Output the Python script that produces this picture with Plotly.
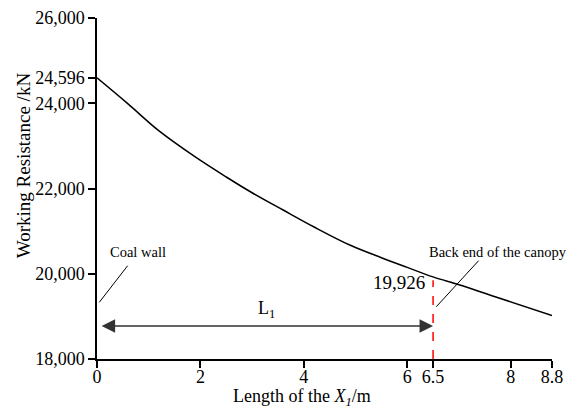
import plotly.graph_objects as go

# Working resistance along the canopy length
length_m = [0, 0.6, 1.2, 1.9, 2.5, 3.0, 3.6, 4.2, 4.9, 5.5, 6.0, 6.5, 7.0, 7.7, 8.8]
resistance_kn = [24596, 23985, 23350, 22740, 22270, 21900, 21495, 21096, 20668,
                 20377, 20150, 19926, 19742, 19462, 19020]

x_ticks = [0, 2, 4, 6, 6.5, 8, 8.8]
x_tick_text = ["0", "2", "4", "6", "6.5", "8", "8.8"]
y_ticks = [18000, 20000, 22000, 24000, 24596, 26000]
y_tick_text = ["18,000", "20,000", "22,000", "24,000", "24,596", "26,000"]

canopy_end_x = 6.5
canopy_end_value = 19926

FONT = "Liberation Serif, Times New Roman, serif"

fig = go.Figure()
fig.add_trace(go.Scatter(
    x=length_m, y=resistance_kn, mode="lines",
    line=dict(color="black", width=1.5, shape="spline", smoothing=1.0),
    hoverinfo="skip", showlegend=False, cliponaxis=False,
))

# Back end of the canopy marker
fig.add_shape(type="line", xref="x", yref="y",
              x0=canopy_end_x, x1=canopy_end_x, y0=18000, y1=19850,
              line=dict(color="red", width=1.5, dash="dash"))

# Leader lines for the labels
fig.add_shape(type="line", xref="x", yref="y",
              x0=0.593, y0=20189, x1=0.044, y1=19330,
              line=dict(color="black", width=1))
fig.add_shape(type="line", xref="x", yref="y",
              x0=7.38, y0=20306, x1=6.563, y1=19227,
              line=dict(color="black", width=1))

annotations = [
    # L1 double arrow
    dict(x=canopy_end_x, y=18774, ax=0.06, ay=18774, xref="x", yref="y",
         axref="x", ayref="y", text="", showarrow=True, arrowhead=2,
         startarrowhead=2, arrowside="end+start", arrowsize=1.8,
         startarrowsize=1.8, arrowwidth=1.5, arrowcolor="#333333"),
    dict(x=3.28, y=19150, xref="x", yref="y", text="L<sub>1</sub>",
         showarrow=False, font=dict(size=18, family=FONT, color="black")),
    dict(x=0.21, y=20510, xref="x", yref="y", text="Coal wall",
         xanchor="left", showarrow=False,
         font=dict(size=14.5, family=FONT, color="black")),
    dict(x=6.38, y=20510, xref="x", yref="y", text="Back end of the canopy",
         xanchor="left", showarrow=False,
         font=dict(size=14.5, family=FONT, color="black")),
    dict(x=6.39, y=19806, xref="x", yref="y", text=f"{canopy_end_value:,}",
         xanchor="right", showarrow=False,
         font=dict(size=19, family=FONT, color="black")),
    # Axis titles
    dict(x=-0.16, y=0.569, xref="paper", yref="paper",
         xanchor="center", yanchor="middle",
         text="Working Resistance /kN", textangle=-90, showarrow=False,
         font=dict(size=19, family=FONT, color="black")),
    dict(x=0.45, y=-0.114, xref="paper", yref="paper",
         xanchor="center", yanchor="middle",
         text="Length of the <i>X</i><sub><i>1</i></sub>/m", showarrow=False,
         font=dict(size=18, family=FONT, color="black")),
]

fig.update_layout(
    width=566, height=409,
    margin=dict(l=97, r=14, t=18, b=50, autoexpand=False),
    paper_bgcolor="white", plot_bgcolor="white",
    font=dict(family=FONT, size=18, color="black"),
    annotations=annotations,
    showlegend=False,
)
fig.update_xaxes(
    range=[0, 8.8], tickvals=x_ticks, ticktext=x_tick_text,
    showline=True, linecolor="black", linewidth=1.5, mirror=False,
    ticks="outside", ticklen=7, tickwidth=1.5, tickcolor="black",
    showgrid=False, zeroline=False, automargin=False,
    ticklabelstandoff=-6, tickfont=dict(size=18, family=FONT),
)
fig.update_yaxes(
    range=[18000, 26000], tickvals=y_ticks, ticktext=y_tick_text,
    showline=True, linecolor="black", linewidth=1.5, mirror=False,
    ticks="outside", ticklen=7, tickwidth=1.5, tickcolor="black",
    showgrid=False, zeroline=False, automargin=False,
    tickfont=dict(size=18, family=FONT),
)

fig.write_html("out.html")
